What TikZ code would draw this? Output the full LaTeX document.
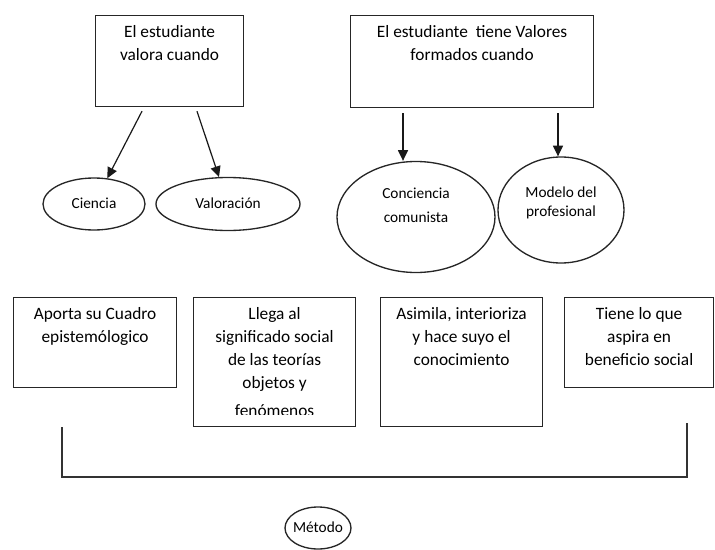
\documentclass[tikz,border=0pt]{standalone}
\usepackage{fontspec}
\setmainfont{Carlito}
\usetikzlibrary{arrows.meta,shapes.geometric,calc}
\begin{document}
\begin{tikzpicture}[x=0.75pt,y=-0.75pt,
  box/.style={draw=black!85, line width=0.9pt, rectangle, inner sep=0pt, anchor=north west},
  oval/.style={draw=black!85, line width=1pt, ellipse, inner sep=0pt},
  btxt/.style={font=\fontsize{13}{17.25}\selectfont, align=center, inner sep=0pt, anchor=north, execute at begin node=\strut},
  otxt/.style={font=\fontsize{11.5}{15}\selectfont, align=center, inner sep=0pt},
  arr/.style={-{Triangle[length=8pt,width=7.5pt]}, line width=0.9pt, draw=black!90},
  brk/.style={line width=1pt, draw=black!80}]
\useasboundingbox (0,0) rectangle (715,550);

% top boxes
\node[box, minimum width=111pt, minimum height=68.25pt] (b1) at (95,15) {};
\node[btxt] (t1) at ($(b1.north)+(0,10)$) {El estudiante\\valora cuando};
\node[box, minimum width=182.25pt, minimum height=69pt] (b2) at (350,15) {};
\node[btxt] (t2) at ($(b2.north)+(0,10)$) {El estudiante\ \ tiene Valores\\formados cuando};

% ellipses
\node[oval, minimum width=76.5pt, minimum height=39pt] (cie) at (94,204) {};
\node[otxt] (ciet) at (94,203) {Ciencia};
\node[oval, minimum width=108pt, minimum height=39.75pt] (val) at (228,204) {};
\node[otxt] (valt) at (228,203) {Valoración};
\node[oval, minimum width=118.5pt, minimum height=83.25pt] (conc) at (416,217) {};
\node[otxt, font=\fontsize{11.5}{18}\selectfont] (conct) at (416,205) {Conciencia\\comunista};
\node[oval, minimum width=94.5pt, minimum height=79.5pt] (mod) at (561,210) {};
\node[otxt, font=\fontsize{11.5}{14.5}\selectfont] (modt) at (561,203) {Modelo del\\profesional};

% arrows
\draw[arr] ([xshift=35.25pt,yshift=-3pt]b1.south west) -- (cie);
\draw[arr] ([xshift=76.5pt,yshift=-3pt]b1.south west) -- (val);
\draw[arr] ([xshift=39.75pt,yshift=-3.75pt]b2.south west) coordinate (s3) -- (s3 |- conc.north);
\draw[arr] ([xshift=156pt,yshift=-3.75pt]b2.south west) coordinate (s4) -- (s4 |- mod.north);

% bottom boxes
\node[box, minimum width=122.25pt, minimum height=67.5pt] (bA) at (13,297) {};
\node[btxt] (tA) at ($(bA.north)+(0,10)$) {Aporta su Cuadro\\epistemólogico};
\node[box, minimum width=121.5pt, minimum height=96.75pt] (bB) at (193,297) {};
\begin{scope}
\clip (bB.north west) rectangle ($(bB.south east)+(0,-13)$);
\node[btxt] (tB) at ($(bB.north)+(0,10)$) {Llega al\\significado social\\de las teorías\\objetos y\\[4pt]fenómenos};
\end{scope}
\node[box, minimum width=121.5pt, minimum height=96.75pt] (bC) at (380,297) {};
\node[btxt] (tC) at ($(bC.north)+(0,10)$) {Asimila, interioriza\\y hace suyo el\\conocimiento};
\node[box, minimum width=111.75pt, minimum height=67.5pt] (bD) at (564,297) {};
\node[btxt] (tD) at ($(bD.north)+(0,10)$) {Tiene lo que\\aspira en\\beneficio social};

% bracket
\coordinate (L) at (62,427);
\coordinate (BL) at (62,477);
\coordinate (BR) at (687,477);
\coordinate (R) at (687,423);
\draw[brk] (L) -- (BL) -- (BR) -- (R);

% Método
\node[oval, minimum width=49.5pt, minimum height=31.5pt] (met) at (318,528) {};
\node[otxt] (mett) at (318,527) {Método};
\end{tikzpicture}
\end{document}
